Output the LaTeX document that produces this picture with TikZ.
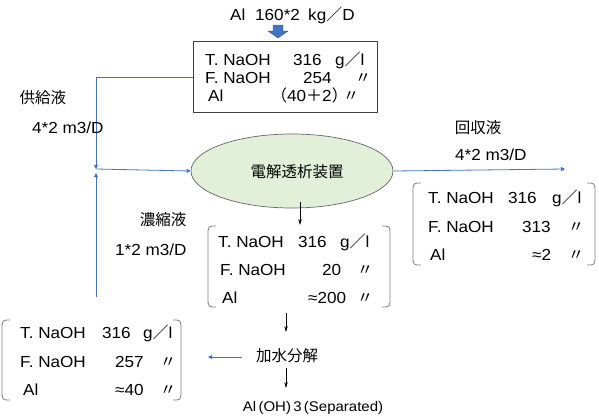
\documentclass[tikz,border=0pt]{standalone}
\usepackage{fontspec}
\setmainfont{Liberation Sans}[FakeStretch=1.07]
\newfontfamily\jp{Noto Sans CJK JP}
\usetikzlibrary{arrows.meta,shapes.geometric}
\definecolor{ofblue}{HTML}{4472C4}
\definecolor{ofgreen}{HTML}{E2F0D9}
\definecolor{brk}{HTML}{808080}
\newcommand{\dittomark}{{\jp 〃}}
\newcommand{\gperl}{g{\jp ／}l}
\begin{document}
\begin{tikzpicture}[x=1pt,y=-1pt,
  txt/.style={inner sep=0pt, anchor=base west, font=\fontsize{16}{18}\selectfont},
  jlab/.style={inner sep=0pt, font=\jp\fontsize{15.5}{18}\selectfont},
  bline/.style={draw=ofblue, line width=0.8pt},
  btip/.style={-{Triangle[length=4pt,width=4pt]}},
  karrow/.style={draw=black, line width=0.6pt, -{Stealth[length=6pt,width=3.5pt]}},
  brack/.style={draw=brk, line width=0.8pt}
  ]
\useasboundingbox (0,0) rectangle (599,418);

% top feed
\node[txt] (t1) at (230,20) {Al};
\node[txt] (t2) at (255,20) {160*2};
\node[txt] (t3) at (308,20) {kg{\jp ／}D};
\fill[ofblue, draw=ofblue!70!black, line width=0.4pt] (273,25) -- (283,25) -- (283,31) -- (288,31) -- (278,38) -- (268,31) -- (273,31) -- cycle;

% top box
\node[draw=black!75, line width=0.8pt, minimum width=184pt, minimum height=71pt, inner sep=0pt] (topbox) at (285,76.5) {};
\node[txt] (a1) at (205,65) {T. NaOH};
\node[txt] (a2) at (293,65) {316};
\node[txt] (a3) at (335,65) {\gperl};
\node[txt] (a4) at (205,83) {F. NaOH};
\node[txt] (a5) at (303,83) {254};
\node[txt] (a6) at (355,83) {\dittomark};
\node[txt] (a7) at (208,101) {Al};
\node[txt] (a8) at (271,101) {{\jp （}40{\jp ＋}2{\jp ）}};
\node[txt] (a9) at (343,101) {\dittomark};

% ellipse
\node[ellipse, draw=black!60, fill=ofgreen, line width=0.7pt, minimum width=202pt, minimum height=74pt, inner sep=0pt] (ed) at (292,171) {};
\node[jlab] (edt) at (297,172) {電解透析装置};

% left feed loop
\coordinate (j1) at (96,77);
\coordinate (j2) at (96,169);
\coordinate (j3) at (96,173);
\coordinate (j4) at (96,297);
\draw[bline] (topbox.west |- j1) -- (j1);
\draw[bline, btip] (j1) -- (j2);
\draw[bline, btip] (j4) -- (j3);
\draw[bline, btip] (j2) -- (ed.west);

\node[jlab] (kyo) at (43,98) {供給液};
\node[txt] (kyof) at (32,133) {4*2 m3/D};
\node[jlab] (noh) at (163,220) {濃縮液};
\node[txt] (nohf) at (115,255) {1*2 m3/D};

% recovered
\coordinate (r1) at (565,169);
\draw[bline, btip] (ed.east) -- (r1);
\node[jlab] (kai) at (478,128) {回収液};
\node[txt] (kaif) at (455,160) {4*2 m3/D};

% right bracket box
\draw[brack] (421,183) .. controls (413,183) and (413,183) .. (413,193) -- (413,255) .. controls (413,265) and (413,265) .. (421,265);
\draw[brack] (587,183) .. controls (595,183) and (595,183) .. (595,193) -- (595,255) .. controls (595,265) and (595,265) .. (587,265);
\node[txt] (b1) at (428,203) {T. NaOH};
\node[txt] (b2) at (508,203) {316};
\node[txt] (b3) at (552,203) {\gperl};
\node[txt] (b4) at (428,232) {F. NaOH};
\node[txt] (b5) at (522,232) {313};
\node[txt] (b6) at (568,232) {\dittomark};
\node[txt] (b7) at (430,260) {Al};
\node[txt] (b8) at (532,260) {≈2};
\node[txt] (b9) at (568,260) {\dittomark};

% middle bracket box
\coordinate (m0) at (300,225);
\draw[karrow] (ed.south -| m0) ++(0,-6) -- (m0);
\draw[brack] (216,226) .. controls (208,226) and (208,226) .. (208,236) -- (208,297) .. controls (208,307) and (208,307) .. (216,307);
\draw[brack] (382,226) .. controls (390,226) and (390,226) .. (390,236) -- (390,297) .. controls (390,307) and (390,307) .. (382,307);
\node[txt] (c1) at (218,247) {T. NaOH};
\node[txt] (c2) at (298,247) {316};
\node[txt] (c3) at (340,247) {\gperl};
\node[txt] (c4) at (220,275) {F. NaOH};
\node[txt] (c5) at (322,275) {20};
\node[txt] (c6) at (357,275) {\dittomark};
\node[txt] (c7) at (222,303) {Al};
\node[txt] (c8) at (308,303) {≈200};
\node[txt] (c9) at (357,303) {\dittomark};

% hydrolysis
\node[jlab] (hyd) at (287,356) {加水分解};
\coordinate (h0) at (286,313);
\coordinate (h0e) at (286,332);
\draw[karrow] (h0) -- (h0e);
\coordinate (h1s) at (286,368);
\coordinate (h1) at (286,388);
\draw[karrow] (h1s) -- (h1);
\node[inner sep=0pt, font=\fontsize{14}{16}\selectfont] (sep) at (313,408) {Al\,(OH)\,3\,(Separated)};
\coordinate (h2) at (242,357);
\draw[bline, btip] (h2) -- (208,357);

% left bracket box
\draw[brack] (10,320) .. controls (2,320) and (2,320) .. (2,330) -- (2,390) .. controls (2,400) and (2,400) .. (10,400);
\draw[brack] (173,320) .. controls (181,320) and (181,320) .. (181,330) -- (181,390) .. controls (181,400) and (181,400) .. (173,400);
\node[txt] (d1) at (20,338) {T. NaOH};
\node[txt] (d2) at (102,338) {316};
\node[txt] (d3) at (143,338) {\gperl};
\node[txt] (d4) at (20,367) {F. NaOH};
\node[txt] (d5) at (115,367) {257};
\node[txt] (d6) at (160,367) {\dittomark};
\node[txt] (d7) at (23,395) {Al};
\node[txt] (d8) at (115,395) {≈40};
\node[txt] (d9) at (160,395) {\dittomark};
\end{tikzpicture}
\end{document}
